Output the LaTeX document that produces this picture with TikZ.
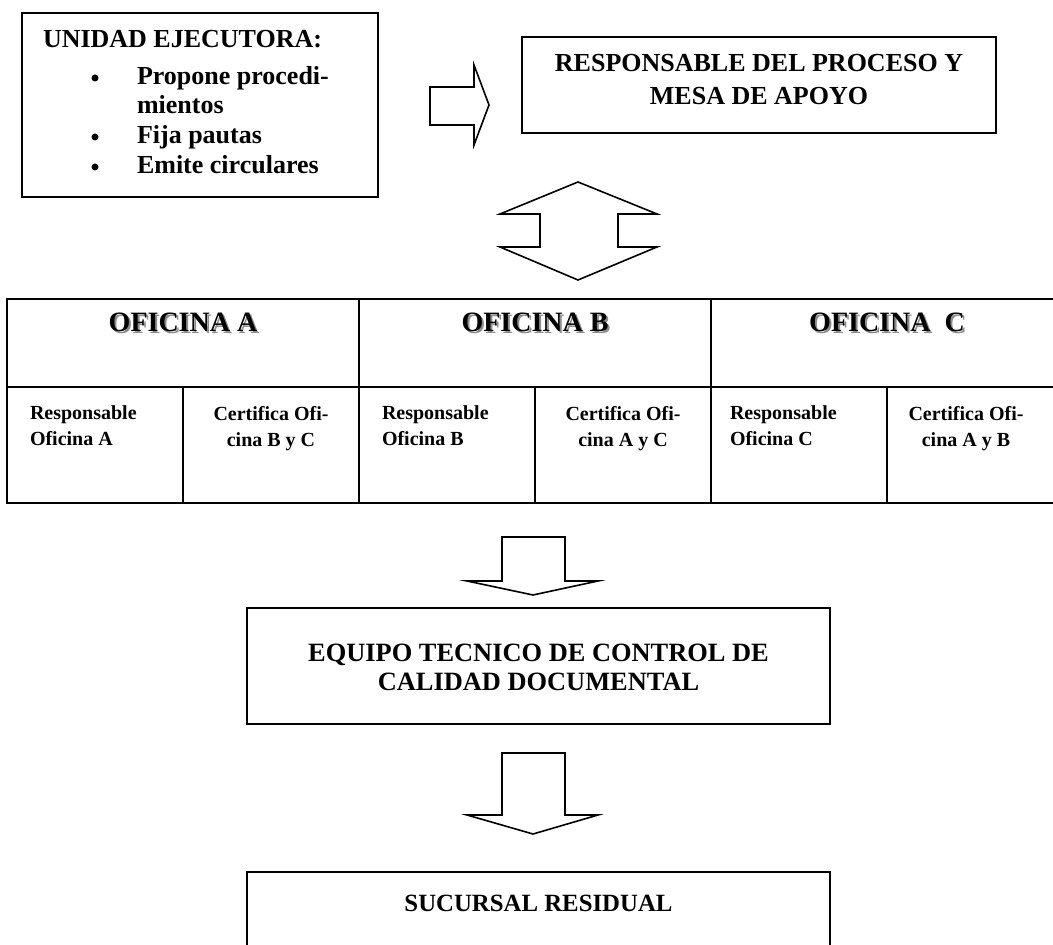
\documentclass[tikz,border=0pt]{standalone}
\usepackage{fontspec}
\setmainfont{Liberation Serif}
\usetikzlibrary{positioning, calc}

\begin{document}
\begin{tikzpicture}[
    x=0.5pt, y=-0.5pt,
    % Style for the boxes
    box/.style={
        rectangle,
        draw,
        line width=1pt,
        anchor=north west,
        inner sep=0pt,
        outer sep=0pt
    },
    % Style for the block arrows
    blockarrow/.style={
        draw,
        line width=0.8pt,
        line join=miter
    },
    txt/.style={inner sep=0pt, outer sep=0pt},
    item/.style={txt, anchor=base west, font=\bfseries\fontsize{13}{15}\selectfont},
    title/.style={txt, anchor=north, align=center},
    office/.style={txt, anchor=base, font=\bfseries\fontsize{14}{16}\selectfont},
    cell/.style={txt, anchor=north west, align=left, font=\bfseries\fontsize{10}{13}\selectfont}
]

    % --- Settings ---
    \def\tabletop{299}
    \def\rowsplit{387}

    \useasboundingbox (0,0) rectangle (1053,945);
    \clip (0,0) rectangle (1053,945);

    % --- Unidad ejecutora ---
    \node[box, minimum width=178pt, minimum height=92pt] (unidad) at (22,13) {};
    \node[item] (unidadtitle) at (43,48) {UNIDAD EJECUTORA:};
    \node[item] (propone) at (137,85) {Propone procedi-};
    \node[item] (mientos) at (137,114) {mientos};
    \node[item] (fija) at (137,144) {Fija pautas};
    \node[item] (emite) at (137,174) {Emite circulares};
    \foreach \it in {propone, fija, emite}
        \fill ($(\it.base west)+(-42,-7)$) circle (3.5);

    % --- Responsable del proceso ---
    \node[box, minimum width=237pt, minimum height=48pt] (resp) at (522,37) {};
    \node[title, font=\bfseries\fontsize{13}{16.5}\selectfont] (resptext) at ($(resp.north)+(0,17)$)
        {RESPONSABLE DEL PROCESO Y\\MESA DE APOYO};

    % right block arrow
    \draw[blockarrow] (unidad.east |- 0,87) ++(52,0) coordinate (rarrow)
        -- ++(44,0) -- ++(0,-22) -- ++(15,40) -- ++(-15,40) -- ++(0,-20) -- ++(-44,0) -- cycle;

    % double block arrow
    \draw[blockarrow] (578,182) -- (657,214) -- (618,214) -- (618,247) -- (657,247)
        -- (578,280) -- (500,247) -- (540,247) -- (540,214) -- (500,214) -- cycle;

    % --- Offices table ---
    \foreach \o/\x/\name in {A/7/{OFICINA A}, B/359/{OFICINA B}, C/711/{OFICINA\ \ C}} {
        \node[box, minimum width=176pt, minimum height=44pt] (of\o) at (\x,\tabletop) {};
        \node[box, minimum width=88pt, minimum height=58pt] (rsp\o) at (\x,\rowsplit) {};
        \node[box, minimum width=88pt, minimum height=58pt] (crt\o) at (\x+176,\rowsplit) {};
        % shadowed heading
        \node[office, text=black!45] (shadow\o) at ($(of\o.north)+(2,35)$) {\name};
        \node[office] (head\o) at ($(of\o.north)+(0,33)$) {\name};
    }

    \node[cell] (rspAtext) at ($(rspA.north west)+(23,19)$) {Responsable\\Oficina A};
    \node[cell] (rspBtext) at ($(rspB.north west)+(23,19)$) {Responsable\\Oficina B};
    \node[cell] (rspCtext) at ($(rspC.north west)+(19,19)$) {Responsable\\Oficina C};
    \node[cell, anchor=north, align=center] (crtAtext) at ($(crtA.north)+(0,19)$) {Certifica Ofi-\\cina B y C};
    \node[cell, anchor=north, align=center] (crtBtext) at ($(crtB.north)+(0,19)$) {Certifica Ofi-\\cina A y C};
    \node[cell, anchor=north, align=center] (crtCtext) at ($(crtC.north)+(-9,19)$) {Certifica Ofi-\\cina A y B};

    % --- Down arrows ---
    \foreach \top/\base/\tip in {537/581/595, 753/815/834} {
        \draw[blockarrow] (502,\top) -- (565,\top) -- (565,\base) -- (598,\base) -- (533,\tip)
            -- (467,\base) -- (502,\base) -- cycle;
    }

    % --- Equipo tecnico ---
    \node[box, minimum width=291.5pt, minimum height=58pt] (equipo) at (247,608) {};
    \node[title, font=\bfseries\fontsize{13.2}{14.5}\selectfont] (equipotext) at ($(equipo.north)+(0,36)$)
        {EQUIPO TECNICO DE CONTROL DE\\CALIDAD DOCUMENTAL};

    % --- Sucursal residual ---
    \node[box, minimum width=291.5pt, minimum height=50pt] (sucursal) at (247,872) {};
    \node[title, font=\bfseries\fontsize{12.4}{14}\selectfont] (sucursaltext) at ($(sucursal.north)+(0,23)$)
        {SUCURSAL RESIDUAL};

\end{tikzpicture}
\end{document}
